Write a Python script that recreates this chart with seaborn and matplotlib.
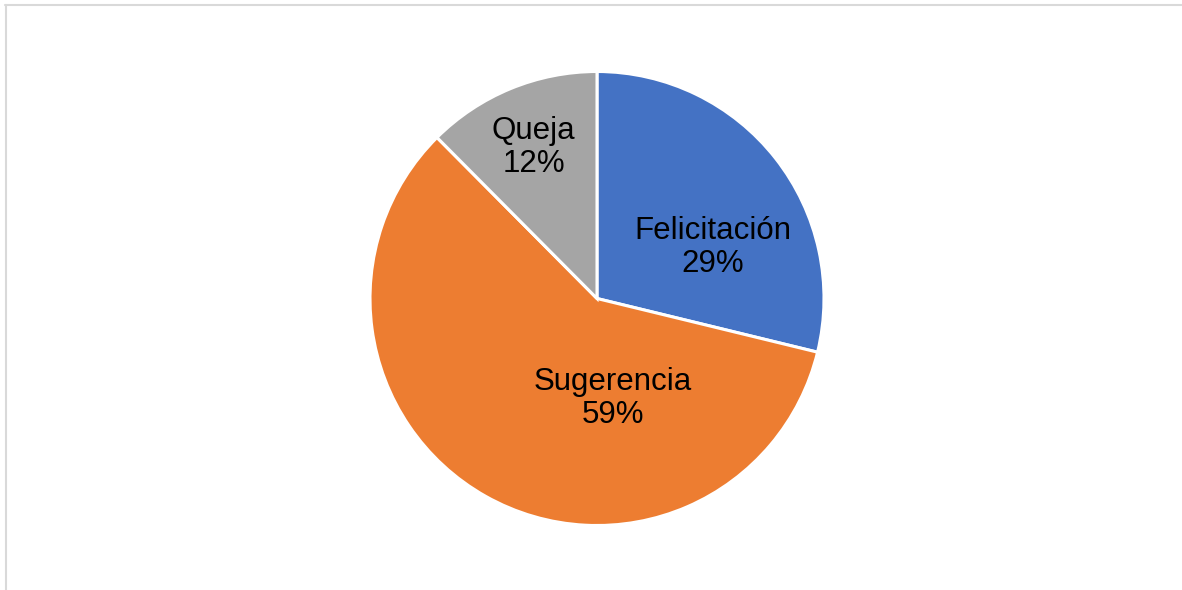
import matplotlib
matplotlib.use("Agg")
import matplotlib.pyplot as plt
import seaborn as sns
import numpy as np
from matplotlib.lines import Line2D

categories = ["Felicitación", "Sugerencia", "Queja"]
values = [28.8, 58.75, 12.45]
pct_labels = ["29%", "59%", "12%"]

sns.set_theme(style="white")
plt.rcParams['font.family'] = ['Liberation Sans', 'DejaVu Sans']

colors = ["#4472C4", "#ED7D31", "#A5A5A5"]

W, H = 1182, 590
fig = plt.figure(figsize=(W / 100, H / 100), dpi=100)
fig.patch.set_facecolor("white")

cx, cy, r = 597, 590 - 298.5, 227
ax = fig.add_axes([(cx - r) / W, (cy - r) / H, 2 * r / W, 2 * r / H])
ax.pie(values, colors=colors, startangle=90, counterclock=False,
       radius=1.0, wedgeprops=dict(edgecolor="white", linewidth=2.2))
ax.set_xlim(-1, 1)
ax.set_ylim(-1, 1)
ax.set_axis_off()

# label placement (axes offsets from center, in radius units)
label_pos = [(0.51, 0.225), (0.07, -0.44), (-0.28, 0.665)]
for name, pct, (lx, ly) in zip(categories, pct_labels, label_pos):
    ax.text(lx, ly, f"{name}\n{pct}", ha="center", va="center",
            fontsize=22.5, color="#000000", linespacing=1.1)

# chart frame (top and left)
gray = "#D9D9D9"
fig.add_artist(Line2D([5 / W, 1], [1 - 4.5 / H, 1 - 4.5 / H], color=gray, lw=1.5,
                      transform=fig.transFigure))
fig.add_artist(Line2D([5.5 / W, 5.5 / W], [0, 1 - 4.5 / H], color=gray, lw=1.5,
                      transform=fig.transFigure))

fig.savefig("out.png", dpi=100, facecolor="white")
